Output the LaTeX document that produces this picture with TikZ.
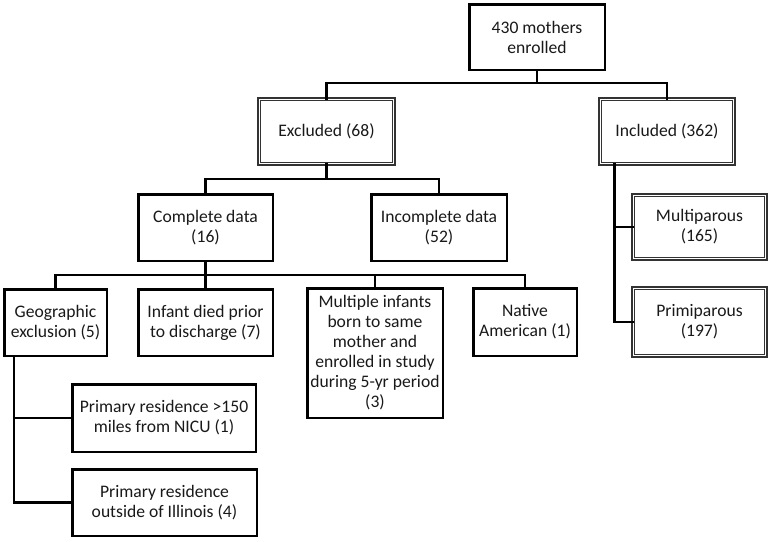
\documentclass[tikz,border=0pt]{standalone}
\usepackage{fontspec}
\setmainfont{Carlito}
\usetikzlibrary{calc}
\begin{document}
\begin{tikzpicture}[x=1pt,y=-1pt,
  box/.style={draw=black, line width=2.5pt, fill=white, align=center, inner sep=1pt,
    font=\fontsize{17.6}{20}\selectfont, text=black!90},
  dbox/.style={draw=black!80, double=white, line width=1.4pt, double distance=1.2pt, fill=white, align=center, inner sep=1pt,
    font=\fontsize{17.6}{20}\selectfont, text=black!90},
  conn/.style={line width=2.5pt, line cap=rect}]
\useasboundingbox (0,0) rectangle (771,541);
\node[box, minimum width=135.5pt, minimum height=65.5pt] (top) at (537,37) {430 mothers\\enrolled};
\node[dbox, minimum width=134.5pt, minimum height=64.5pt] (excl) at (326.5,131.5) {Excluded (68)};
\node[dbox, minimum width=133.5pt, minimum height=64.5pt] (incl) at (667,131.5) {Included (362)};
\node[box, minimum width=134.5pt, minimum height=66.5pt] (comp) at (205.5,227.5) {Complete data\\(16)};
\node[box, minimum width=135.5pt, minimum height=66.5pt] (incomp) at (439,227.5) {Incomplete data\\(52)};
\node[box, minimum width=102.5pt, minimum height=66.5pt] (geo) at (55.5,322.5) {Geographic\\exclusion (5)};
\node[box, minimum width=134.5pt, minimum height=66.5pt] (infant) at (205.5,322.5) {Infant died prior\\to discharge (7)};
\node[box, minimum width=135.5pt, minimum height=129.5pt] (mult) at (375,353) {Multiple infants\\born to same\\mother and\\enrolled in study\\during 5-yr period\\(3)};
\node[box, minimum width=103.5pt, minimum height=67.5pt] (native) at (525,322) {Native\\American (1)};
\node[box, minimum width=183.5pt, minimum height=67.5pt] (p1) at (164,418) {Primary residence >150\\miles from NICU (1)};
\node[box, minimum width=184.5pt, minimum height=66.5pt] (p2) at (164.5,502.5) {Primary residence\\outside of Illinois (4)};
\node[dbox, minimum width=132.5pt, minimum height=63.5pt] (multi) at (699.5,227) {Multiparous\\(165)};
\node[dbox, minimum width=132.5pt, minimum height=67.5pt] (primi) at (699.5,322) {Primiparous\\(197)};
\coordinate (bus1) at (0,83);
\coordinate (bus2) at (0,179);
\coordinate (bus3) at (0,275);
\begin{scope}[conn]
\draw (top.south) -- (top.south |- bus1) -| (excl.north);
\draw (top.south |- bus1) -| (incl.north);
\draw (excl.south) -- (excl.south |- bus2) -| (comp.north);
\draw (excl.south |- bus2) -| (incomp.north);
\draw (comp.south) -- (comp.south |- bus3) -| (geo.north);
\draw (comp.south |- bus3) -| (infant.north);
\draw (comp.south |- bus3) -| (mult.north);
\draw (comp.south |- bus3) -| (native.north);
\draw ($(geo.south west)+(11,0)$) |- (p1.west);
\draw ($(geo.south west)+(11,0)$) |- (p2.west);
\draw ($(incl.south west)+(15,0)$) |- (multi.west);
\draw ($(incl.south west)+(15,0)$) |- (primi.west);
\end{scope}
\end{tikzpicture}
\end{document}
